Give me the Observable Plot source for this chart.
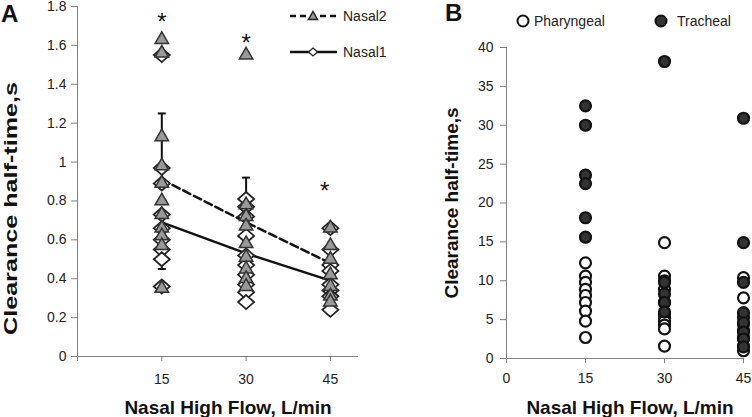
<!DOCTYPE html>
<html><head><meta charset="utf-8">
<script src="https://cdn.jsdelivr.net/npm/d3@7"></script>
<script src="https://cdn.jsdelivr.net/npm/@observablehq/plot@0.6"></script>
<style>
body{margin:0;background:#fff;}
#wrap{position:relative;width:752px;height:417px;overflow:hidden;background:#fff;}
.panel{position:absolute;top:0;}
#overlay{position:absolute;left:0;top:0;pointer-events:none;}
</style></head><body>
<div id="wrap">
  <div class="panel" id="panelA" style="left:0;width:380px"></div>
  <div class="panel" id="panelB" style="left:380px;width:372px"></div>
  <svg id="overlay" width="752" height="417" font-family="'Liberation Sans', Arial, sans-serif">
    <text x="1" y="22" font-size="24" font-weight="bold" fill="#111">A</text>
    <text x="445" y="21" font-size="24" font-weight="bold" fill="#111">B</text>
    <line x1="290" x2="337" y1="16" y2="16" stroke="#111" stroke-width="2.5" stroke-dasharray="6,4"/>
    <path d="M313,11.5L317.5,19.5L308.5,19.5Z" fill="#999" stroke="#222" stroke-width="1.5"/>
    <text x="343" y="21" font-size="14" fill="#222">Nasal2</text>
    <line x1="290" x2="337" y1="52" y2="52" stroke="#111" stroke-width="2.5"/>
    <path d="M313,48L317.5,52L313,56L308.5,52Z" fill="#fff" stroke="#222" stroke-width="1.3"/>
    <text x="343" y="57" font-size="14" fill="#222">Nasal1</text>
    <circle cx="523" cy="21" r="5.5" fill="#fff" stroke="#111" stroke-width="2"/>
    <text x="534" y="26" font-size="14" fill="#222">Pharyngeal</text>
    <circle cx="661" cy="21" r="5.5" fill="#333" stroke="#111" stroke-width="2"/>
    <text x="677" y="26" font-size="14" fill="#222">Tracheal</text>
  </svg>
</div>
<script>
// ---------- Panel A data ----------
const flows = [15, 30, 45];
const nasal2At15 = [1.63, 1.56, 1.13, 0.98, 0.89, 0.80, 0.73, 0.66, 0.62, 0.57, 0.35];
const nasal2At30 = [1.55, 0.78, 0.72, 0.67, 0.58, 0.51, 0.45, 0.40, 0.36];
const nasal2At45 = [0.66, 0.57, 0.50, 0.42, 0.36, 0.31, 0.28];
const nasal1At15 = [1.55, 0.97, 0.89, 0.73, 0.66, 0.60, 0.55, 0.50, 0.36];
const nasal1At30 = [0.81, 0.77, 0.72, 0.62, 0.52, 0.47, 0.42, 0.37, 0.33, 0.28];
const nasal1At45 = [0.66, 0.55, 0.47, 0.44, 0.37, 0.34, 0.31, 0.24];
const nasal2Mean = [0.91, 0.69, 0.48];
const nasal1Mean = [0.69, 0.53, 0.39];
const nasal2UpperFlow = [15, 30];
const nasal2UpperMean = [0.91, 0.69];
const nasal2Upper = [1.25, 0.92];
const nasal1LowerFlow = [15];
const nasal1LowerMean = [0.69];
const nasal1Lower = [0.45];
const starFlow = [15, 30, 44];
const starY = [1.75, 1.64, 0.88];
const yTicksA = [0, 0.2, 0.4, 0.6, 0.8, 1, 1.2, 1.4, 1.6, 1.8];
const xTicks = [0, 15, 30, 45];

// ---------- Panel B data ----------
const pharyngealAt15 = [12.3, 10.6, 9.8, 8.9, 8.1, 7.2, 6.1, 4.8, 2.7];
const pharyngealAt30 = [14.9, 10.6, 10.0, 8.9, 7.2, 5.7, 5.2, 4.8, 4.3, 3.8, 1.6];
const pharyngealAt45 = [10.4, 7.8, 5.3, 4.4, 3.6, 2.7, 1.6, 1.0];
const trachealAt15 = [32.5, 30.0, 23.6, 22.5, 18.1, 15.6];
const trachealAt30 = [38.2, 9.8, 8.3, 7.2, 6.0];
const trachealAt45 = [30.9, 14.9, 9.8, 5.9, 4.6, 3.4, 2.5, 1.5];
const yTicksB = [0, 5, 10, 15, 20, 25, 30, 35, 40];

const yLabel = "Clearance half-time,s";
const xLabel = "Nasal High Flow, L/min";

// ---------- helpers ----------
const pts = (f, arr) => arr.map(v => ({x: f, y: v}));
const nasal2Pts = [...pts(15, nasal2At15), ...pts(30, nasal2At30), ...pts(45, nasal2At45)];
const nasal1Pts = [...pts(15, nasal1At15), ...pts(30, nasal1At30), ...pts(45, nasal1At45)];
const pharPts = [...pts(15, pharyngealAt15), ...pts(30, pharyngealAt30), ...pts(45, pharyngealAt45)];
const trachPts = [...pts(15, trachealAt15), ...pts(30, trachealAt30), ...pts(45, trachealAt45)];
const mean2 = flows.map((f, i) => ({x: f, y: nasal2Mean[i]}));
const mean1 = flows.map((f, i) => ({x: f, y: nasal1Mean[i]}));
const errUp = nasal2UpperFlow.map((f, i) => ({x: f, m: nasal2UpperMean[i], e: nasal2Upper[i]}));
const errDn = nasal1LowerFlow.map((f, i) => ({x: f, m: nasal1LowerMean[i], e: nasal1Lower[i]}));
const stars = starFlow.map((f, i) => ({x: f, y: starY[i]}));

const wideDiamond = {draw(ctx, size) {
  const r = Math.sqrt(size / Math.PI); const w = r * 1.6, h = r * 1.4;
  ctx.moveTo(0, -h); ctx.lineTo(w, 0); ctx.lineTo(0, h); ctx.lineTo(-w, 0); ctx.closePath();
}};
const capSymbol = {draw(ctx, size) {
  const r = Math.sqrt(size / Math.PI); ctx.moveTo(-r, 0); ctx.lineTo(r, 0);
}};

const baseStyle = {fontFamily: "'Liberation Sans', Arial, sans-serif", fontSize: "14px", color: "#222", background: "transparent", overflow: "visible", maxWidth: "none"};
const fmt = d => String(+(+d).toFixed(2));

// ---------- Panel A ----------
const plotA = Plot.plot({
  width: 380, height: 417, marginLeft: 77, marginRight: 22, marginTop: 6, marginBottom: 61,
  x: {domain: [0, 50]}, y: {domain: [0, 1.8]},
  style: baseStyle,
  marks: [
    Plot.ruleY([0], {stroke: "#808080"}),
    Plot.ruleX([0], {stroke: "#808080"}),
    Plot.axisY({ticks: yTicksA, tickFormat: fmt, tickSize: 6, tickPadding: 5, stroke: "#808080", fill: "#222", label: null}),
    Plot.axisX({ticks: xTicks, tickFormat: d => d === 0 ? "" : d, tickSize: 5, tickPadding: 13, stroke: "#808080", fill: "#222", label: null}),
    Plot.ruleX(errUp, {x: "x", y1: "m", y2: "e", stroke: "#111", strokeWidth: 2}),
    Plot.dot(errUp, {x: "x", y: "e", symbol: capSymbol, r: 4, stroke: "#111", strokeWidth: 2}),
    Plot.ruleX(errDn, {x: "x", y1: "m", y2: "e", stroke: "#111", strokeWidth: 2}),
    Plot.dot(errDn, {x: "x", y: "e", symbol: capSymbol, r: 4, stroke: "#111", strokeWidth: 2}),
    Plot.line(mean2, {x: "x", y: "y", stroke: "#111", strokeWidth: 2.5, strokeDasharray: "8,4"}),
    Plot.line(mean1, {x: "x", y: "y", stroke: "#111", strokeWidth: 2.5}),
    Plot.dot(nasal1Pts, {x: "x", y: "y", symbol: wideDiamond, r: 5, fill: "#fff", stroke: "#222", strokeWidth: 1.8}),
    Plot.dot(nasal2Pts, {x: "x", y: "y", symbol: "triangle", r: 5, fill: "#999", stroke: "#333", strokeWidth: 1.5}),
    Plot.text(stars, {x: "x", y: "y", text: () => "*", fontSize: 24, dy: 6, fill: "#111"}),
    Plot.text([yLabel], {frameAnchor: "left", textAnchor: "middle", rotate: -90, dx: -61, dy: 27, lineAnchor: "bottom", fontWeight: "bold", fontSize: 19, fill: "#111"}),
    Plot.text([xLabel], {frameAnchor: "bottom", textAnchor: "middle", dx: 10, dy: 57, lineAnchor: "bottom", fontWeight: "bold", fontSize: 19, fill: "#111"})
  ]
});
plotA.querySelectorAll("text").forEach(t => {
  if (t.textContent === yLabel) { t.setAttribute("textLength", "253"); t.setAttribute("lengthAdjust", "spacingAndGlyphs"); }
});
document.getElementById("panelA").appendChild(plotA);

// ---------- Panel B ----------
const plotB = Plot.plot({
  width: 372, height: 417, marginLeft: 126, marginRight: 9, marginTop: 47, marginBottom: 59,
  x: {domain: [0, 45]}, y: {domain: [0, 40]},
  style: baseStyle,
  marks: [
    Plot.ruleY([0], {stroke: "#808080"}),
    Plot.ruleX([0], {stroke: "#808080"}),
    Plot.axisY({ticks: yTicksB, tickSize: 6, tickPadding: 7, stroke: "#808080", fill: "#222", label: null}),
    Plot.axisX({ticks: xTicks, tickSize: 5, tickPadding: 10, stroke: "#808080", fill: "#222", label: null}),
    Plot.dot(pharPts, {x: "x", y: "y", r: 5.5, fill: "#fff", stroke: "#111", strokeWidth: 2.2}),
    Plot.dot(trachPts, {x: "x", y: "y", r: 5.5, fill: "#333", stroke: "#111", strokeWidth: 2.2}),
    Plot.text([yLabel], {frameAnchor: "left", textAnchor: "middle", rotate: -90, dx: -49, dy: 0, lineAnchor: "bottom", fontWeight: "bold", fontSize: 19, fill: "#111"}),
    Plot.text([xLabel], {frameAnchor: "bottom", textAnchor: "middle", dx: 5, dy: 55, lineAnchor: "bottom", fontWeight: "bold", fontSize: 19, fill: "#111"})
  ]
});
document.getElementById("panelB").appendChild(plotB);
</script>
</body></html>
